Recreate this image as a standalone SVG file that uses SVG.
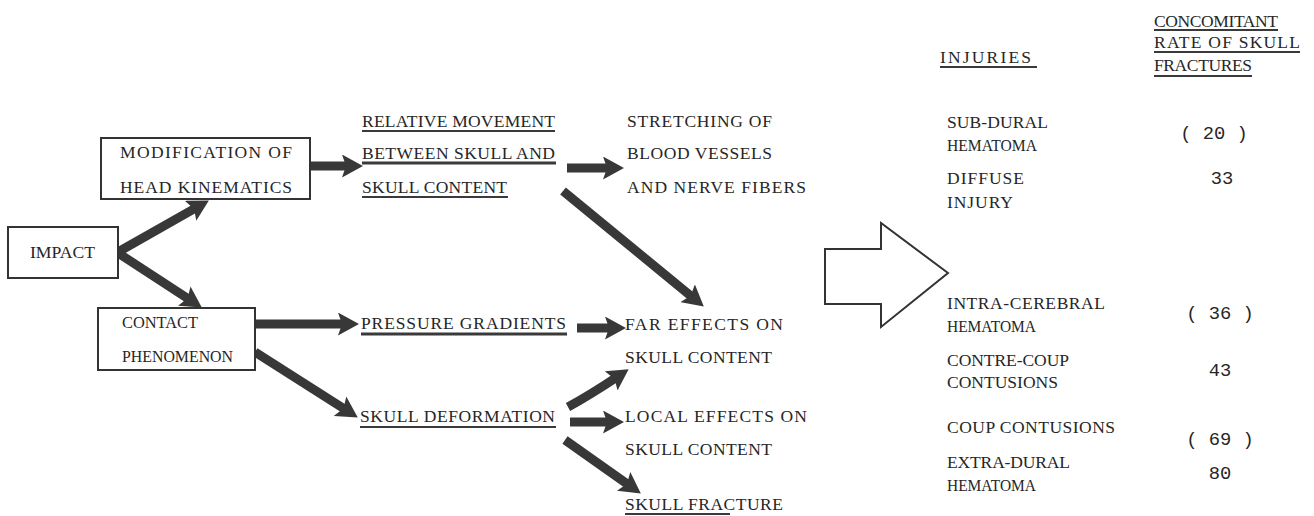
<svg xmlns="http://www.w3.org/2000/svg" width="1314" height="516" viewBox="0 0 1314 516">
<style>
text{font-family:"Liberation Serif","Times New Roman",serif;font-size:17.5px;fill:#262626;}
.num{font-family:"Liberation Mono","Courier New",monospace;font-size:18.8px;text-anchor:middle;}
.box{fill:#fff;stroke:#333;stroke-width:2;}
.ul{stroke:#3a3a3a;stroke-width:2;fill:none;}
.arr{stroke:#383838;stroke-width:9;fill:none;marker-end:url(#head);}
.big{fill:#fff;stroke:#333;stroke-width:2;stroke-linejoin:miter;}
</style>
<defs>
<marker id="head" markerUnits="userSpaceOnUse" markerWidth="21" markerHeight="23" refX="7" refY="11.5" orient="auto" viewBox="0 0 21 23">
<path d="M0,0 L21,11.5 L0,23 L4,11.5 z" fill="#383838"/>
</marker>
</defs>
<rect width="1314" height="516" fill="#fff"/>

<g id="connectors">
<line class="arr" x1="118" y1="252" x2="196.7" y2="207.4"/>
<line class="arr" x1="118" y1="253" x2="190.1" y2="299.9"/>
<line class="arr" x1="310" y1="166" x2="349" y2="166"/>
<line class="arr" x1="567" y1="168" x2="610" y2="168"/>
<line class="arr" x1="563" y1="191" x2="693" y2="297.7"/>
<line class="arr" x1="255" y1="324" x2="345" y2="324"/>
<line class="arr" x1="577" y1="328" x2="612" y2="328"/>
<line class="arr" x1="255" y1="352" x2="346" y2="410"/>
<path class="arr" d="M568,407 Q590,395 617,377"/>
<line class="arr" x1="570" y1="422" x2="610" y2="422"/>
<line class="arr" x1="565" y1="440" x2="629.4" y2="485.5"/>
</g>

<g id="impact">
<rect class="box" x="8" y="227" width="110" height="51"/>
<text x="30" y="258" textLength="65" lengthAdjust="spacingAndGlyphs">IMPACT</text>
</g>

<g id="modification">
<rect class="box" x="101" y="138" width="209" height="61"/>
<text x="120" y="158" textLength="172" lengthAdjust="spacing">MODIFICATION OF</text>
<text x="120" y="193" textLength="172" lengthAdjust="spacing">HEAD KINEMATICS</text>
</g>

<g id="contact">
<rect class="box" x="98" y="308" width="157" height="62"/>
<text x="122" y="328" textLength="76" lengthAdjust="spacingAndGlyphs">CONTACT</text>
<text x="122" y="362" textLength="111" lengthAdjust="spacingAndGlyphs">PHENOMENON</text>
</g>

<g id="relative-movement">
<text x="362" y="127" textLength="193" lengthAdjust="spacing">RELATIVE MOVEMENT</text>
<text x="362" y="159" textLength="193" lengthAdjust="spacing">BETWEEN SKULL AND</text>
<text x="362" y="193" textLength="145" lengthAdjust="spacing">SKULL CONTENT</text>
<line class="ul" x1="362" y1="131" x2="555" y2="131"/>
<line class="ul" x1="362" y1="163" x2="556" y2="163" style="stroke-width:3"/>
<line class="ul" x1="362" y1="197" x2="508" y2="197"/>
</g>

<g id="stretching">
<text x="627" y="127" textLength="145" lengthAdjust="spacing">STRETCHING OF</text>
<text x="627" y="159" textLength="145" lengthAdjust="spacing">BLOOD VESSELS</text>
<text x="627" y="193" textLength="179" lengthAdjust="spacing">AND NERVE FIBERS</text>
</g>

<g id="pressure-gradients">
<text x="361" y="329" textLength="205" lengthAdjust="spacing">PRESSURE GRADIENTS</text>
<line class="ul" x1="361" y1="334" x2="567" y2="334" style="stroke-width:3"/>
</g>

<g id="skull-deformation">
<text x="360" y="422" textLength="195" lengthAdjust="spacing">SKULL DEFORMATION</text>
<line class="ul" x1="360" y1="427" x2="556" y2="427"/>
</g>

<g id="far-effects">
<text x="625" y="330" textLength="158" lengthAdjust="spacing">FAR EFFECTS ON</text>
<text x="625" y="363" textLength="147" lengthAdjust="spacing">SKULL CONTENT</text>
</g>

<g id="local-effects">
<text x="625" y="422" textLength="182" lengthAdjust="spacing">LOCAL EFFECTS ON</text>
<text x="625" y="455" textLength="147" lengthAdjust="spacing">SKULL CONTENT</text>
</g>

<g id="skull-fracture">
<text x="625" y="510" textLength="158" lengthAdjust="spacing">SKULL FRACTURE</text>
<line class="ul" x1="625" y1="514" x2="730" y2="514"/>
</g>

<g id="big-arrow">
<polygon class="big" points="825,249 881,249 881,223 948,273 881,327 881,304 825,304"/>
</g>

<g id="injuries-header">
<text x="940" y="63" textLength="91" lengthAdjust="spacing">INJURIES</text>
<line class="ul" x1="940" y1="67" x2="1037" y2="67"/>
</g>

<g id="rate-header">
<text x="1154" y="27" textLength="124" lengthAdjust="spacing">CONCOMITANT</text>
<text x="1154" y="48" textLength="146" lengthAdjust="spacing">RATE OF SKULL</text>
<text x="1154" y="71" textLength="98" lengthAdjust="spacing">FRACTURES</text>
<line class="ul" x1="1154" y1="30" x2="1278" y2="30"/>
<line class="ul" x1="1154" y1="52" x2="1300" y2="52"/>
<line class="ul" x1="1154" y1="76" x2="1252" y2="76"/>
</g>

<g id="injury-subdural">
<text x="947" y="128" textLength="101" lengthAdjust="spacing">SUB-DURAL</text>
<text x="947" y="151" textLength="90" lengthAdjust="spacingAndGlyphs">HEMATOMA</text>
<text class="num" x="1214" y="139">( 20 )</text>
</g>

<g id="injury-diffuse">
<text x="947" y="184" textLength="77" lengthAdjust="spacing">DIFFUSE</text>
<text x="947" y="208" textLength="66" lengthAdjust="spacing">INJURY</text>
<text class="num" x="1222" y="184">33</text>
</g>

<g id="injury-intracerebral">
<text x="947" y="309" textLength="158" lengthAdjust="spacing">INTRA-CEREBRAL</text>
<text x="947" y="332" textLength="89" lengthAdjust="spacingAndGlyphs">HEMATOMA</text>
<text class="num" x="1220" y="319">( 36 )</text>
</g>

<g id="injury-contrecoup">
<text x="947" y="366" textLength="122" lengthAdjust="spacing">CONTRE-COUP</text>
<text x="947" y="388" textLength="111" lengthAdjust="spacingAndGlyphs">CONTUSIONS</text>
<text class="num" x="1220" y="376">43</text>
</g>

<g id="injury-coup">
<text x="947" y="433" textLength="168" lengthAdjust="spacing">COUP CONTUSIONS</text>
<text class="num" x="1220" y="445">( 69 )</text>
</g>

<g id="injury-extradural">
<text x="947" y="468" textLength="123" lengthAdjust="spacing">EXTRA-DURAL</text>
<text x="947" y="491" textLength="89" lengthAdjust="spacingAndGlyphs">HEMATOMA</text>
<text class="num" x="1220" y="479">80</text>
</g>
</svg>
